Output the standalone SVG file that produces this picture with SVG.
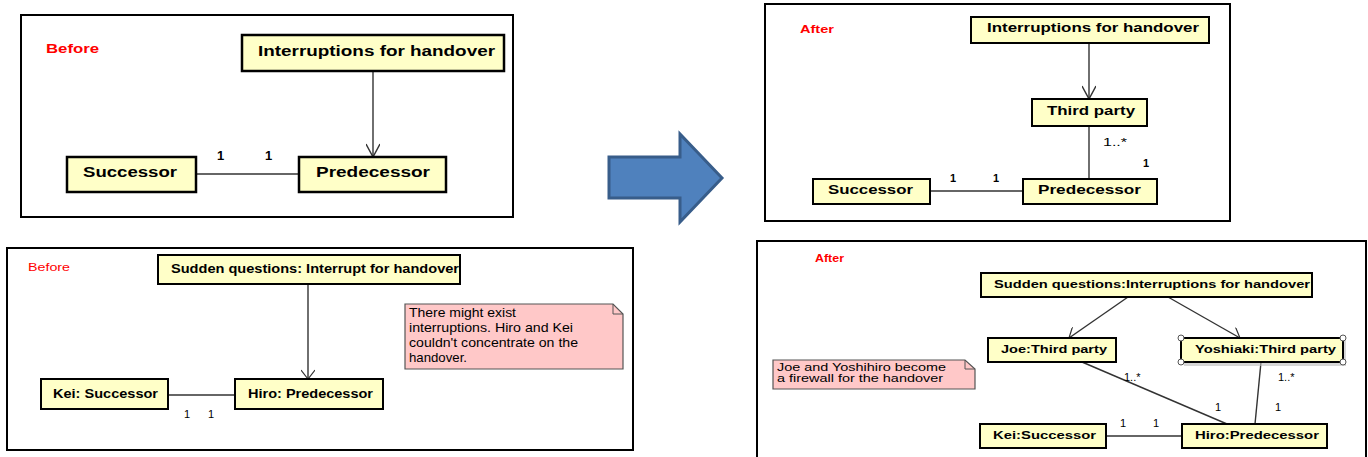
<svg xmlns="http://www.w3.org/2000/svg" width="1368" height="457" viewBox="0 0 1368 457">
<defs>
<style>
.frame{fill:#fff;stroke:#000;stroke-width:2}
.cls{fill:#FFFFC8;stroke:#000;stroke-width:2}
.cls3{fill:#FFFFC8;stroke:#000;stroke-width:2.5}
.note{fill:#FFC8C8;stroke:#555;stroke-width:1.2}
.t{font-family:"Liberation Sans",Arial,sans-serif;font-weight:bold;fill:#000}
.n{font-family:"Liberation Sans",Arial,sans-serif;fill:#000}
.red{font-family:"Liberation Sans",Arial,sans-serif;fill:#FF0000}
.con{fill:none;stroke:#333;stroke-width:1.4}
.lab{font-family:"Liberation Sans",Arial,sans-serif;font-size:11px;fill:#000}
</style>
<marker id="big" viewBox="0 0 20 14" refX="14" refY="7" markerWidth="20" markerHeight="14" orient="auto" markerUnits="userSpaceOnUse">
<path d="M1,0 L14,7 L1,14" fill="none" stroke="#333" stroke-width="1.5"/>
</marker>
<marker id="small" viewBox="0 0 14 14" refX="10" refY="7" markerWidth="14" markerHeight="14" orient="auto" markerUnits="userSpaceOnUse">
<path d="M1,0 L10,7 L1,14" fill="none" stroke="#333" stroke-width="1.2"/>
</marker>
</defs>
<rect width="1368" height="457" fill="#fff"/>

<!-- Panel frames -->
<rect id="panel1" class="frame" x="21" y="15" width="492" height="202"/>
<rect id="panel2" class="frame" x="7" y="248" width="626" height="202"/>
<rect id="panel3" class="frame" x="765" y="4" width="465" height="217"/>
<rect id="panel4" class="frame" x="757" y="241" width="609" height="220"/>

<!-- Big arrow -->
<g id="bigArrow">
<path d="M609,157 L680,157 L680,134 L722,178 L680,222 L680,198 L609,198 Z" fill="#4F81BD" stroke="#385D8A" stroke-width="3" stroke-linejoin="miter"/>
</g>

<!-- Connectors -->
<g id="connectors">
<line class="con" x1="373" y1="71" x2="373" y2="157" marker-end="url(#big)"/>
<line class="con" x1="196" y1="174" x2="299" y2="174"/>
<line class="con" x1="308" y1="284" x2="308" y2="379" marker-end="url(#small)"/>
<line class="con" x1="168" y1="395" x2="235" y2="395"/>
<line class="con" x1="1089" y1="43" x2="1089" y2="99" marker-end="url(#big)"/>
<line class="con" x1="1089" y1="126" x2="1089" y2="179"/>
<line class="con" x1="930" y1="191" x2="1023" y2="191"/>
<line class="con" x1="1128" y1="297" x2="1069" y2="338" marker-end="url(#small)"/>
<line class="con" x1="1168" y1="297" x2="1240" y2="338" marker-end="url(#small)"/>
<line class="con" x1="1082" y1="362" x2="1227" y2="424"/>
<line class="con" x1="1261" y1="362" x2="1255" y2="424"/>
<line class="con" x1="1106" y1="436" x2="1182" y2="436"/>
</g>

<!-- Panel 1 -->
<text class="red" x="46" y="53" font-size="13" font-weight="bold" textLength="53" lengthAdjust="spacingAndGlyphs">Before</text>
<g id="p1-interruptions">
<rect class="cls3" x="242" y="35" width="262" height="36"/>
<text class="t" x="258" y="56" font-size="14.5" textLength="237" lengthAdjust="spacingAndGlyphs">Interruptions for handover</text>
</g>
<g id="p1-successor">
<rect class="cls3" x="67" y="157" width="129" height="35"/>
<text class="t" x="83" y="177" font-size="14.5" textLength="94" lengthAdjust="spacingAndGlyphs">Successor</text>
</g>
<g id="p1-predecessor">
<rect class="cls3" x="299" y="157" width="147" height="35"/>
<text class="t" x="316" y="177" font-size="14.5" textLength="114" lengthAdjust="spacingAndGlyphs">Predecessor</text>
</g>
<text class="t" x="217" y="160" font-size="13">1</text>
<text class="t" x="265" y="160" font-size="13">1</text>

<!-- Panel 2 -->
<text class="red" x="28" y="271" font-size="11.5" textLength="42" lengthAdjust="spacingAndGlyphs">Before</text>
<g id="p2-sudden">
<rect class="cls" x="158" y="255" width="302" height="29"/>
<text class="t" x="171" y="273" font-size="12" textLength="288" lengthAdjust="spacingAndGlyphs">Sudden questions: Interrupt for handover</text>
</g>
<g id="p2-note">
<path class="note" d="M405,304 L613,304 L623,314 L623,369 L405,369 Z"/>
<path d="M613,304 L613,314 L623,314" fill="none" stroke="#555" stroke-width="1"/>
<text class="n" font-size="13">
<tspan x="409" y="317" textLength="107" lengthAdjust="spacingAndGlyphs">There might exist</tspan>
<tspan x="409" y="332" textLength="164" lengthAdjust="spacingAndGlyphs">interruptions. Hiro and Kei</tspan>
<tspan x="409" y="347" textLength="169" lengthAdjust="spacingAndGlyphs">couldn't concentrate on the</tspan>
<tspan x="409" y="362" textLength="58" lengthAdjust="spacingAndGlyphs">handover.</tspan>
</text>
</g>
<g id="p2-kei">
<rect class="cls" x="41" y="379" width="127" height="30"/>
<text class="t" x="53" y="398" font-size="12.5" textLength="105" lengthAdjust="spacingAndGlyphs">Kei: Successor</text>
</g>
<g id="p2-hiro">
<rect class="cls" x="235" y="379" width="148" height="30"/>
<text class="t" x="248" y="398" font-size="12.5" textLength="125" lengthAdjust="spacingAndGlyphs">Hiro: Predecessor</text>
</g>
<text class="lab" x="184" y="418" font-size="12">1</text>
<text class="lab" x="208" y="418" font-size="12">1</text>

<!-- Panel 3 -->
<text class="red" x="800" y="33" font-size="10.5" font-weight="bold" textLength="34" lengthAdjust="spacingAndGlyphs">After</text>
<g id="p3-interruptions">
<rect class="cls" x="971" y="17" width="238" height="26"/>
<text class="t" x="987" y="32" font-size="12" textLength="212" lengthAdjust="spacingAndGlyphs">Interruptions for handover</text>
</g>
<g id="p3-third">
<rect class="cls" x="1032" y="99" width="115" height="27"/>
<text class="t" x="1047" y="115" font-size="12" textLength="88" lengthAdjust="spacingAndGlyphs">Third party</text>
</g>
<g id="p3-successor">
<rect class="cls" x="813" y="179" width="117" height="25"/>
<text class="t" x="828" y="194" font-size="12" textLength="85" lengthAdjust="spacingAndGlyphs">Successor</text>
</g>
<g id="p3-predecessor">
<rect class="cls" x="1023" y="179" width="134" height="25"/>
<text class="t" x="1038" y="194" font-size="12" textLength="103" lengthAdjust="spacingAndGlyphs">Predecessor</text>
</g>
<text class="t" x="950" y="182" font-size="11">1</text>
<text class="t" x="993" y="182" font-size="11">1</text>
<text class="lab" x="1103" y="146" textLength="24" lengthAdjust="spacingAndGlyphs">1..*</text>
<text class="t" x="1143" y="167" font-size="11">1</text>

<!-- Panel 4 -->
<text class="red" x="815" y="262" font-size="10" font-weight="bold" textLength="29" lengthAdjust="spacingAndGlyphs">After</text>
<g id="p4-sudden">
<rect class="cls" x="981" y="273" width="331" height="24"/>
<text class="t" x="994" y="288" font-size="11" textLength="316" lengthAdjust="spacingAndGlyphs">Sudden questions:Interruptions for handover</text>
</g>
<g id="p4-joe">
<rect class="cls" x="988" y="338" width="128" height="24"/>
<text class="t" x="1001" y="353" font-size="11" textLength="106" lengthAdjust="spacingAndGlyphs">Joe:Third party</text>
</g>
<g id="p4-yoshiaki">
<rect x="1184" y="341" width="162" height="25" fill="#bbb" opacity="0.6"/>
<rect class="cls" x="1181" y="338" width="162" height="24"/>
<text class="t" x="1195" y="353" font-size="11" textLength="141" lengthAdjust="spacingAndGlyphs">Yoshiaki:Third party</text>
<g fill="#fff" stroke="#555" stroke-width="1">
<circle cx="1181" cy="338" r="3"/>
<circle cx="1343" cy="338" r="3"/>
<circle cx="1181" cy="362" r="3"/>
<circle cx="1343" cy="362" r="3"/>
</g>
</g>
<g id="p4-note">
<path class="note" d="M773,360 L965,360 L975,369 L975,389 L773,389 Z"/>
<path d="M965,360 L965,369 L975,369" fill="none" stroke="#555" stroke-width="1"/>
<text class="n" font-size="10.5">
<tspan x="777" y="371" textLength="169" lengthAdjust="spacingAndGlyphs">Joe and Yoshihiro become</tspan>
<tspan x="777" y="382" textLength="166" lengthAdjust="spacingAndGlyphs">a firewall for the handover</tspan>
</text>
</g>
<g id="p4-kei">
<rect class="cls" x="980" y="424" width="126" height="24"/>
<text class="t" x="993" y="439" font-size="11" textLength="103" lengthAdjust="spacingAndGlyphs">Kei:Successor</text>
</g>
<g id="p4-hiro">
<rect class="cls" x="1182" y="424" width="145" height="24"/>
<text class="t" x="1195" y="439" font-size="11" textLength="124" lengthAdjust="spacingAndGlyphs">Hiro:Predecessor</text>
</g>
<text class="lab" x="1124" y="381">1..*</text>
<text class="lab" x="1278" y="381">1..*</text>
<text class="lab" x="1215" y="411">1</text>
<text class="lab" x="1275" y="411">1</text>
<text class="lab" x="1120" y="427">1</text>
<text class="lab" x="1153" y="427">1</text>
</svg>
